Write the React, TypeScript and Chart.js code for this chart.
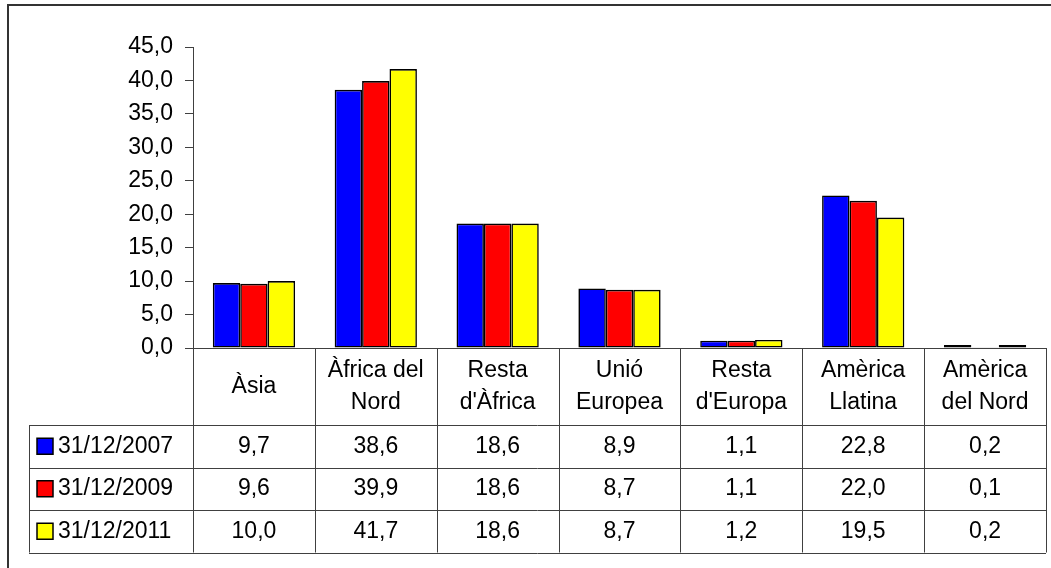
import React, { useEffect, useRef } from "react";
import { Chart, registerables } from "chart.js";

Chart.register(...registerables);

const categories: string[][] = [
  ["Àsia"],
  ["Àfrica del", "Nord"],
  ["Resta", "d'Àfrica"],
  ["Unió", "Europea"],
  ["Resta", "d'Europa"],
  ["Amèrica", "Llatina"],
  ["Amèrica", "del Nord"],
];

const seriesNames = ["31/12/2007", "31/12/2009", "31/12/2011"];
const values2007 = [9.7, 38.6, 18.6, 8.9, 1.1, 22.8, 0.2];
const values2009 = [9.6, 39.9, 18.6, 8.7, 1.1, 22.0, 0.1];
const values2011 = [10.0, 41.7, 18.6, 8.7, 1.2, 19.5, 0.2];
const seriesColors = ["#0000FF", "#FF0000", "#FFFF00"];
const seriesMinBar = [3, 0, 3];

const yMin = 0;
const yMax = 45;
const yStep = 5;

const FONT = "'Liberation Sans', Arial, sans-serif";
const FONT_SIZE = 23;
const LINE = "#404040";

const fmt = (v: number) => v.toFixed(1).replace(".", ",");

const tablePlugin = {
  id: "dataTable",
  beforeDraw(chart: any) {
    const ctx = chart.ctx;
    ctx.save();
    ctx.strokeStyle = "#333";
    ctx.lineWidth = 2;
    ctx.beginPath();
    ctx.moveTo(8, 568);
    ctx.lineTo(8, 5);
    ctx.lineTo(1051, 5);
    ctx.stroke();
    ctx.restore();
  },
  afterDraw(chart: any) {
    const { ctx, chartArea } = chart;
    const x = chart.scales.x;
    const labels = chart.data.labels as string[][];
    const n = labels.length;
    const w = (chartArea.right - chartArea.left) / n;
    const edges: number[] = [];
    for (let i = 0; i < n; i++) edges.push(x.getPixelForValue(i) - w / 2);
    edges.push(x.getPixelForValue(n - 1) + w / 2);

    const top = chartArea.bottom;
    const headerBottom = top + 77;
    const rowH = 42.5;
    const nRows = chart.data.datasets.length;
    const tableBottom = headerBottom + rowH * nRows;
    const legendLeft = 29;

    ctx.save();
    ctx.strokeStyle = LINE;
    ctx.lineWidth = 1;
    ctx.beginPath();
    for (const e of edges) {
      const xx = Math.round(e) + 0.5;
      ctx.moveTo(xx, top);
      ctx.lineTo(xx, tableBottom);
    }
    for (let r = 0; r <= nRows; r++) {
      const yy = Math.round(headerBottom + r * rowH) + 0.5;
      ctx.moveTo(legendLeft, yy);
      ctx.lineTo(edges[n], yy);
    }
    ctx.moveTo(legendLeft + 0.5, headerBottom);
    ctx.lineTo(legendLeft + 0.5, tableBottom);
    ctx.stroke();

    ctx.fillStyle = "#000";
    ctx.font = `${FONT_SIZE}px ${FONT}`;
    ctx.textAlign = "center";
    ctx.textBaseline = "middle";
    const headerMid = (top + headerBottom) / 2;
    const lh = 32;
    labels.forEach((lines, i) => {
      const cx = (edges[i] + edges[i + 1]) / 2;
      const startY = headerMid - ((lines.length - 1) * lh) / 2;
      lines.forEach((t, j) => ctx.fillText(t, cx, startY + j * lh));
    });

    chart.data.datasets.forEach((ds: any, r: number) => {
      const cy = headerBottom + r * rowH + rowH / 2;
      ds.data.forEach((v: number, i: number) => {
        const cx = (edges[i] + edges[i + 1]) / 2;
        ctx.textAlign = "center";
        ctx.fillText(fmt(v), cx, cy);
      });
      ctx.fillStyle = ds.backgroundColor;
      ctx.fillRect(37, cy - 8, 16, 16);
      ctx.strokeStyle = "#000";
      ctx.lineWidth = 1.5;
      ctx.strokeRect(37, cy - 8, 16, 16);
      ctx.fillStyle = "#000";
      ctx.textAlign = "left";
      ctx.fillText(ds.label, 58, cy);
    });
    ctx.restore();
  },
};

export default function App() {
  const ref = useRef<HTMLCanvasElement>(null);
  useEffect(() => {
    if (!ref.current) return;
    const chart = new Chart(ref.current, {
      type: "bar",
      data: {
        labels: categories,
        datasets: [values2007, values2009, values2011].map((d, k) => ({
          label: seriesNames[k],
          data: d,
          backgroundColor: seriesColors[k],
          borderColor: "#000",
          borderWidth: 1.6,
          borderSkipped: false,
          minBarLength: seriesMinBar[k],
          categoryPercentage: 0.675,
          barPercentage: 1,
        })),
      },
      options: {
        responsive: false,
        animation: false,
        devicePixelRatio: 1,
        layout: { padding: { top: 47, right: 5, left: 0, bottom: 0 } },
        plugins: { legend: { display: false }, tooltip: { enabled: false } },
        scales: {
          x: {
            offset: true,
            ticks: { display: false },
            grid: { display: false },
            border: { display: true, color: LINE, width: 1 },
            afterFit: (s: any) => {
              s.height = 220;
            },
          },
          y: {
            min: yMin,
            max: yMax,
            ticks: {
              stepSize: yStep,
              callback: (v: any) => fmt(Number(v)),
              font: { family: FONT, size: FONT_SIZE },
              color: "#000",
              padding: 12,
            },
            grid: {
              drawOnChartArea: false,
              drawTicks: true,
              tickLength: 8,
              color: LINE,
            },
            border: { display: true, color: LINE, width: 1 },
            afterFit: (s: any) => {
              s.width = 193;
            },
          },
        },
      },
      plugins: [tablePlugin],
    });
    return () => chart.destroy();
  }, []);
  return (
    <div style={{ position: "absolute", left: 0, top: 0, width: 1051, height: 568, background: "#fff" }}>
      <canvas ref={ref} width={1051} height={568} />
    </div>
  );
}
